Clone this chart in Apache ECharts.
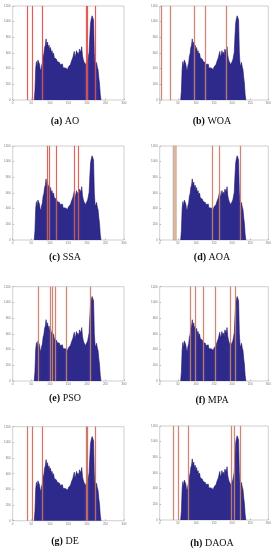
<!DOCTYPE html>
<html><head><meta charset="utf-8">
<script src="https://cdn.jsdelivr.net/npm/echarts@6/dist/echarts.min.js"></script>
<style>html,body{margin:0;padding:0;background:#fff}#c{width:278px;height:550px}</style>
</head><body><div id="c"></div>
<script>
// ---- data ----
const grayLevels = [58,60,62,64,66,68,70,72,74,76,78,80,82,84,86,88,90,92,94,96,98,100,102,104,106,108,110,112,114,116,118,120,122,124,126,128,130,132,134,136,138,140,142,144,146,148,150,152,154,156,158,160,162,164,166,168,170,172,174,176,178,180,182,184,186,188,190,192,194,196,198,200,202,204,206,208,210,212,214,216,218,220,222,224,226,228,230,232,234,236,238];
const pixelCounts = [0,120,400,490,420,510,530,460,400,370,440,470,560,590,670,700,780,690,740,660,700,630,670,600,630,570,600,540,550,520,520,490,490,470,480,450,470,430,460,410,430,400,410,395,405,390,420,410,445,455,490,500,540,560,620,540,580,630,580,610,560,650,670,610,680,570,520,490,480,450,450,440,510,510,610,820,990,1040,1075,1050,1020,600,460,430,480,420,390,290,210,70,0];
const xTickValues = [0,50,100,150,200,250,300];
const yTickValues = [0,200,400,600,800,1000,1200];
const panelLetters = ['(a)','(b)','(c)','(d)','(e)','(f)','(g)','(h)'];
const algorithmNames = ['AO','WOA','SSA','AOA','PSO','MPA','DE','DAOA'];
const thresholdsAO   = [39.5, 53, 80, 197.5, 202, 222];
const thresholdsWOA  = [4, 30.5, 95, 126, 183];
const thresholdsSSA  = [92.5, 98, 118.5, 165, 177];
const thresholdsAOA  = [144, 165, 223];
const bandAOA        = [36.8, 46];
const thresholdsPSO  = [69, 100.6, 107.8, 114, 145.5, 210];
const thresholdsMPA  = [85.6, 97.5, 119.6, 154.6, 196, 209.7];
const thresholdsDE   = [39.5, 53, 80, 197.5, 202, 222];
const thresholdsDAOA = [38.6, 52.4, 79, 198.7, 207, 221.7];
const allThresholds = [thresholdsAO, thresholdsWOA, thresholdsSSA, thresholdsAOA, thresholdsPSO, thresholdsMPA, thresholdsDE, thresholdsDAOA];

// ---- layout / style ----
const L = [
  {l:12.7, t:6,     w:111.3, h:94,   cx:65,  cy:121},
  {l:159.7,t:6,     w:108.6, h:94,   cx:212, cy:121},
  {l:12.7, t:146,   w:111.3, h:94,   cx:65,  cy:257},
  {l:159.7,t:146,   w:108.6, h:94,   cx:212, cy:257},
  {l:12.7, t:286.7, w:111.3, h:94.3, cx:65,  cy:398},
  {l:159.7,t:286.7, w:108.6, h:94.3, cx:212, cy:400},
  {l:12.7, t:426.7, w:111.3, h:94,   cx:65,  cy:541},
  {l:159.7,t:426,   w:108.6, h:94,   cx:212, cy:543}
];
const lineColors = ['#d8504c','#b8866a','#c9604e','#b8866a','#b8866a','#b8866a','#c07058','#b8866a'];
const hist = grayLevels.map((g,i)=>[g,pixelCounts[i]]);

const grids=[],xAxes=[],yAxes=[],series=[],graphics=[];
L.forEach((p,i)=>{
  grids.push({left:p.l, top:p.t, width:p.w, height:p.h, show:true, borderColor:'#b0b0b0', borderWidth:0.6, backgroundColor:'#fff'});
  xAxes.push({gridIndex:i, type:'value', min:xTickValues[0], max:xTickValues[xTickValues.length-1], interval:50,
    axisLine:{show:false}, splitLine:{show:false},
    axisTick:{show:true, inside:true, length:1.5, lineStyle:{color:'#888', width:0.5}},
    axisLabel:{fontSize:3, color:'#777', margin:2, formatter:v=>String(v)}});
  yAxes.push({gridIndex:i, type:'value', min:yTickValues[0], max:yTickValues[yTickValues.length-1], interval:200,
    axisLine:{show:false}, splitLine:{show:false},
    axisTick:{show:true, inside:true, length:1.5, lineStyle:{color:'#888', width:0.5}},
    axisLabel:{fontSize:3, color:'#777', margin:2, formatter:v=>String(v)}});
  const ml = allThresholds[i].map(v=>({xAxis:v}));
  const s = {type:'line', xAxisIndex:i, yAxisIndex:i, data:hist, symbol:'none', silent:true, animation:false,
    lineStyle:{color:'#22186c', width:0.6}, areaStyle:{color:'#2e2a8c', opacity:1},
    markLine:{silent:true, symbol:'none', label:{show:false}, animation:false,
      lineStyle:{color:lineColors[i], width:0.9, type:'solid', shadowBlur:2, shadowColor:'rgba(240,120,140,0.7)'},
      data:ml}};
  if(i===3){
    s.markArea={silent:true, itemStyle:{color:'#d9b9a6', borderColor:'#c0957c', borderWidth:0.5},
      data:[[{xAxis:bandAOA[0]},{xAxis:bandAOA[1]}]]};
  }
  series.push(s);
  graphics.push({type:'text', x:p.cx, y:p.cy, style:{
    text:'{b|'+panelLetters[i]+'} '+algorithmNames[i],
    font:'10px "Liberation Serif"', fill:'#111', align:'center', verticalAlign:'middle',
    rich:{b:{fontWeight:'bold', fontSize:10, fontFamily:'Liberation Serif', fill:'#111'}}
  }});
});

const chart = echarts.init(document.getElementById('c'), null, {renderer:'canvas'});
chart.setOption({animation:false, grid:grids, xAxis:xAxes, yAxis:yAxes, series:series, graphic:graphics});
</script>
</body></html>
